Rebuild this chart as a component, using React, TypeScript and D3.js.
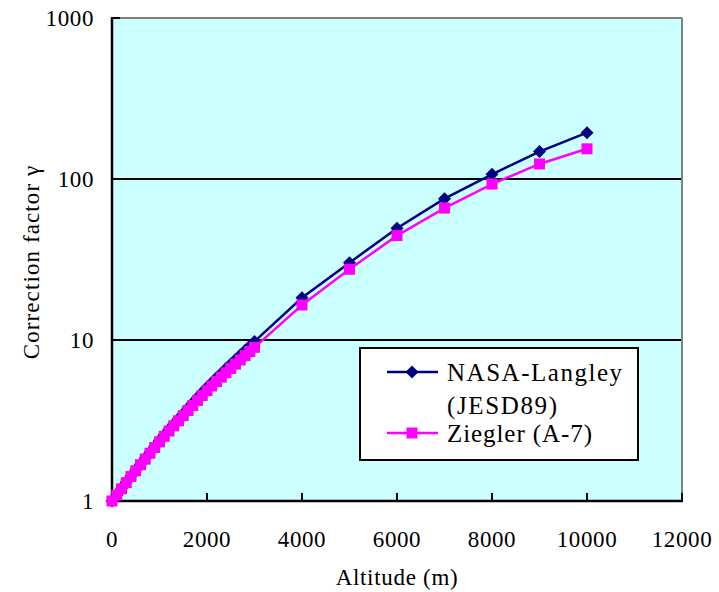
import React from 'react';
import * as d3 from 'd3';

// altitude in metres (100 m steps up to 3000, then every 1000)
const altitudes = [
  0, 100, 200, 300, 400, 500, 600, 700, 800, 900,
  1000, 1100, 1200, 1300, 1400, 1500, 1600, 1700, 1800, 1900,
  2000, 2100, 2200, 2300, 2400, 2500, 2600, 2700, 2800, 2900,
  3000, 4000, 5000, 6000, 7000, 8000, 9000, 10000,
];

const nasaLangley = [
  1.0, 1.09, 1.2, 1.31, 1.43, 1.56, 1.69, 1.85, 2.01, 2.19,
  2.38, 2.58, 2.79, 3.01, 3.24, 3.5, 3.78, 4.07, 4.4, 4.73,
  5.09, 5.45, 5.82, 6.22, 6.65, 7.1, 7.57, 8.07, 8.61, 9.18,
  9.8, 18.3, 30.2, 49.5, 75.5, 107, 148, 194,
];

const ziegler = [
  1.0, 1.09, 1.19, 1.3, 1.42, 1.54, 1.68, 1.82, 1.98, 2.15,
  2.33, 2.52, 2.72, 2.93, 3.15, 3.39, 3.65, 3.92, 4.21, 4.52,
  4.85, 5.18, 5.52, 5.88, 6.26, 6.66, 7.08, 7.52, 7.99, 8.48,
  9.0, 16.5, 27.5, 44.5, 66, 93, 124, 154,
];

const xTicks = [0, 2000, 4000, 6000, 8000, 10000, 12000];
const yTicks = [1, 10, 100, 1000];
const gridValues = [10, 100];

const legendItems = [
  { name: 'NASA-Langley', color: '#000080', marker: 'diamond' },
  { name: 'Ziegler (A-7)', color: '#ff00ff', marker: 'square' },
];

const txt = { fontFamily: 'Liberation Serif', fontSize: 23, letterSpacing: 0.6 };

const left = 112, right = 682, top = 18, bottom = 501;
const x = d3.scaleLinear().domain([0, 12000]).range([left, right]);
const y = d3.scaleLog().domain([1, 1000]).range([bottom, top]);

const line = d3.line<number>()
  .x((d, i) => x(altitudes[i]))
  .y(d => y(d));

function Diamond({ cx, cy }: { cx: number; cy: number }) {
  const r = 6.5;
  return <path d={`M${cx},${cy - r}L${cx + r},${cy}L${cx},${cy + r}L${cx - r},${cy}Z`} fill="#000080" />;
}

function Square({ cx, cy }: { cx: number; cy: number }) {
  return <rect x={cx - 5.5} y={cy - 5.5} width={11} height={11} fill="#ff00ff" />;
}

export default function App() {
  return (
    <svg width={719} height={592} style={{ position: 'absolute', left: 0, top: 0, background: '#fff' }}>
      {/* plot background */}
      <rect x={left} y={top} width={right - left} height={bottom - top} fill="#ccffff" />

      {/* gridlines */}
      {gridValues.map(v => (
        <line key={v} x1={left} x2={right} y1={y(v)} y2={y(v)} stroke="#000" strokeWidth={2} />
      ))}

      {/* frame: gray top/right, black axes */}
      <line x1={left} x2={right} y1={top} y2={top} stroke="#808080" strokeWidth={2} />
      <line x1={right} x2={right} y1={top} y2={bottom} stroke="#808080" strokeWidth={2} />
      <line x1={left} x2={left} y1={top - 1} y2={bottom + 1} stroke="#000" strokeWidth={2.5} />
      <line x1={left - 1} x2={right + 1} y1={bottom} y2={bottom} stroke="#000" strokeWidth={2.5} />

      {/* ticks inside */}
      {xTicks.map(t => (
        <line key={t} x1={x(t)} x2={x(t)} y1={bottom} y2={bottom - 8} stroke="#000" strokeWidth={2} />
      ))}
      {yTicks.map(t => (
        <line key={t} x1={left} x2={left + 8} y1={y(t)} y2={y(t)} stroke="#000" strokeWidth={2} />
      ))}

      {/* tick labels */}
      {xTicks.map(t => (
        <text key={t} x={x(t)} y={547} textAnchor="middle" style={txt}>{t}</text>
      ))}
      {yTicks.map(t => (
        <text key={t} x={94} y={y(t)} dy="0.35em" textAnchor="end" style={txt}>{t}</text>
      ))}

      {/* axis titles */}
      <text x={397} y={585} textAnchor="middle" style={{ ...txt, letterSpacing: 0.7 }}>Altitude (m)</text>
      <text transform="translate(39,262) rotate(-90)" textAnchor="middle" style={{ ...txt, letterSpacing: 1.1 }}>
        Correction factor γ
      </text>

      {/* series */}
      <path d={line(nasaLangley) || ''} fill="none" stroke="#000080" strokeWidth={2.5} />
      {nasaLangley.map((v, i) => <Diamond key={i} cx={x(altitudes[i])} cy={y(v)} />)}
      <path d={line(ziegler) || ''} fill="none" stroke="#ff00ff" strokeWidth={2.5} />
      {ziegler.map((v, i) => <Square key={i} cx={x(altitudes[i])} cy={y(v)} />)}

      {/* legend */}
      <rect x={360} y={348} width={278} height={112} fill="#fff" stroke="#000" strokeWidth={2} />
      <line x1={387} x2={438} y1={372} y2={372} stroke={legendItems[0].color} strokeWidth={2.5} />
      <Diamond cx={412} cy={372} />
      <line x1={387} x2={438} y1={433} y2={433} stroke={legendItems[1].color} strokeWidth={2.5} />
      <Square cx={412} cy={433} />
      <text x={447} y={372} dy="0.35em" textLength={175} lengthAdjust="spacing"
        style={{ fontFamily: 'Liberation Serif', fontSize: 25 }}>NASA-Langley</text>
      <text x={447} y={405} dy="0.35em" textLength={110} lengthAdjust="spacing"
        style={{ fontFamily: 'Liberation Serif', fontSize: 25 }}>(JESD89)</text>
      <text x={447} y={433} dy="0.35em" textLength={145} lengthAdjust="spacing"
        style={{ fontFamily: 'Liberation Serif', fontSize: 25 }}>{legendItems[1].name}</text>
    </svg>
  );
}
